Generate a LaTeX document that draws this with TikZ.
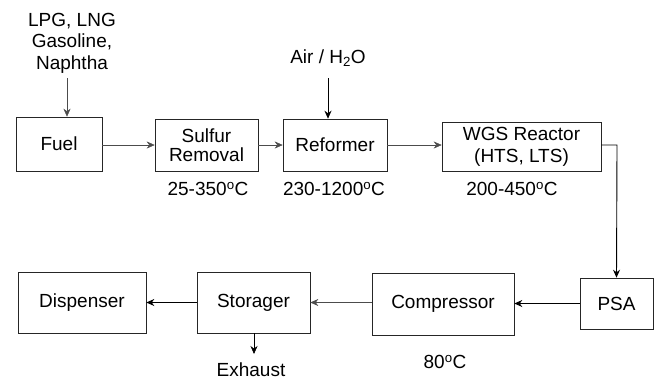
\documentclass[tikz,border=0pt]{standalone}
\usepackage{fontspec}
\setmainfont{Liberation Sans}
\usetikzlibrary{arrows.meta}
\begin{document}
\begin{tikzpicture}[x=1pt,y=-1pt,
  font=\fontsize{19}{21}\selectfont,
  box/.style={draw=black!85,line width=0.6pt,rectangle,inner sep=0pt,align=center},
  lbl/.style={inner sep=0pt,align=center},
  thinarr/.style={draw=black!70,line width=0.5pt,-{Stealth[length=8pt,width=7pt]}},
  boldarr/.style={draw=black,line width=0.9pt,-{Stealth[length=8pt,width=7pt]}}]
\useasboundingbox (0,0) rectangle (660,381);
% top row
\node[box,minimum width=86pt,minimum height=54pt] (fuel) at (59,144) {Fuel};
\node[box,minimum width=103pt,minimum height=52pt,font=\fontsize{19}{19.5}\selectfont] (sulf) at (206.5,145) {Sulfur\\Removal};
\node[box,minimum width=104pt,minimum height=52pt] (ref) at (335,145) {Reformer};
\node[box,minimum width=159pt,minimum height=49pt,font=\fontsize{19}{22}\selectfont] (wgs) at (521.5,146.5) {WGS Reactor\\(HTS, LTS)};
% bottom row
\node[box,minimum width=128pt,minimum height=61pt] (disp) at (82,302.5) {Dispenser};
\node[box,minimum width=113pt,minimum height=61pt] (stor) at (253.5,302.5) {Storager};
\node[box,minimum width=142pt,minimum height=62pt] (comp) at (443,304) {Compressor};
\node[box,minimum width=73pt,minimum height=51pt] (psa) at (616.5,303.5) {PSA};
% labels
\node[lbl,font=\fontsize{19}{21.5}\selectfont] (lpg) at (72,43) {LPG, LNG\\Gasoline,\\Naphtha};
\node[lbl] (air) at (328,58) {Air / H\textsubscript{2}O};
\node[lbl] (t1) at (208,189) {25-350\textsuperscript{o}C};
\node[lbl] (t2) at (334,189) {230-1200\textsuperscript{o}C};
\node[lbl] (t3) at (512,189) {200-450\textsuperscript{o}C};
\node[lbl] (t4) at (445,362) {80\textsuperscript{o}C};
\node[lbl,anchor=base] (exh) at (251,376.5) {Exhaust};
% coordinates
\coordinate (lpgA) at (67,78);
\coordinate (airA) at (328,78);
\coordinate (bend) at (617,145);
\coordinate (exhA) at (254,354);
% connectors
\draw[thinarr] (lpgA) -- (lpgA |- fuel.north);
\draw[boldarr] (airA) -- (airA |- ref.north);
\draw[thinarr] (fuel.east |- sulf.west) -- (sulf.west);
\draw[thinarr] (sulf.east) -- (ref.west);
\draw[thinarr] (ref.east) -- (ref.east -| wgs.west);
\draw[boldarr] (wgs.east |- bend) -- (bend) -- (psa.north);
\draw[boldarr] (psa.west) -- (psa.west -| comp.east);
\draw[thinarr,line width=0.6pt] (comp.west |- stor.east) -- (stor.east);
\draw[boldarr] (stor.west) -- (disp.east);
\draw[boldarr,line width=0.7pt] (exhA |- stor.south) -- (exhA);
\end{tikzpicture}
\end{document}
